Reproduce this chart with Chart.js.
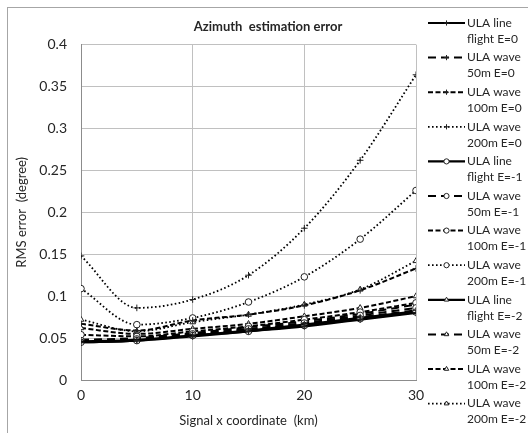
<!DOCTYPE html>
<html>
<head>
<meta charset="utf-8">
<script src="https://cdn.jsdelivr.net/npm/chart.js@4/dist/chart.umd.min.js"></script>
<style>
  html, body { margin: 0; padding: 0; background: #fff; }
  #wrap { width: 528px; height: 433px; }
</style>
</head>
<body>
<div id="wrap"><canvas id="chart" width="528" height="433"></canvas></div>
<script>
"use strict";

// x coordinate of the signal (km)
let xKm = [0, 5, 10, 15, 20, 25, 30];

let seriesNames = [
    ["ULA line", "flight E=0"], ["ULA wave", "50m E=0"], ["ULA wave", "100m E=0"], ["ULA wave", "200m E=0"],
    ["ULA line", "flight E=-1"], ["ULA wave", "50m E=-1"], ["ULA wave", "100m E=-1"], ["ULA wave", "200m E=-1"],
    ["ULA line", "flight E=-2"], ["ULA wave", "50m E=-2"], ["ULA wave", "100m E=-2"], ["ULA wave", "200m E=-2"]
];

// RMS error (degree)
let lineE0 = [0.045, 0.047, 0.052, 0.058, 0.064, 0.072, 0.080];
let wave50E0 = [0.046, 0.048, 0.054, 0.060, 0.067, 0.075, 0.083];
let wave100E0 = [0.067, 0.059, 0.071, 0.078, 0.089, 0.107, 0.133];
let wave200E0 = [0.148, 0.086, 0.096, 0.125, 0.181, 0.262, 0.364];
let lineE1 = [0.045, 0.047, 0.053, 0.058, 0.065, 0.073, 0.081];
let wave50E1 = [0.047, 0.049, 0.055, 0.061, 0.068, 0.077, 0.086];
let wave100E1 = [0.054, 0.052, 0.058, 0.064, 0.072, 0.081, 0.092];
let wave200E1 = [0.109, 0.066, 0.074, 0.093, 0.123, 0.168, 0.226];
let lineE2 = [0.046, 0.048, 0.053, 0.059, 0.066, 0.074, 0.082];
let wave50E2 = [0.048, 0.050, 0.056, 0.063, 0.070, 0.079, 0.090];
let wave100E2 = [0.062, 0.055, 0.061, 0.067, 0.076, 0.086, 0.100];
let wave200E2 = [0.072, 0.058, 0.069, 0.078, 0.090, 0.108, 0.142];

let allSeries = [lineE0, wave50E0, wave100E0, wave200E0, lineE1, wave50E1, wave100E1, wave200E1,
    lineE2, wave50E2, wave100E2, wave200E2];

let yTickLabels = ["0", "0.05", "0.1", "0.15", "0.2", "0.25", "0.3", "0.35", "0.4"];
let xTickLabels = ["0", "10", "20", "30"];

let markers = ["cross", "circle", "triangle"];
let dashes = [[], [8, 5], [5, 2.5], [1.6, 2.4]];
let widths = [2.2, 2, 2, 1.8];

let FONT = "Lato, 'Open Sans', sans-serif";
let TEXT = "#262626";

let datasets = allSeries.map(function (vals, i) {
    let kind = i % 4;
    return {
        label: seriesNames[i].join(" "),
        data: vals.map(function (v, k) { return { x: xKm[k], y: v }; }),
        borderColor: "#000",
        backgroundColor: "#fff",
        borderWidth: widths[kind],
        borderDash: dashes[kind],
        pointStyle: markers[Math.floor(i / 4)],
        pointRadius: 3.3,
        pointBorderWidth: 1,
        pointBorderColor: "#222",
        pointBackgroundColor: "#fff",
        cubicInterpolationMode: "monotone",
        fill: false
    };
});

// frame around the whole chart
let framePlugin = {
    id: "frame",
    beforeDraw: function (chart) {
        let ctx = chart.ctx;
        ctx.save();
        ctx.fillStyle = "#fff";
        ctx.fillRect(0, 0, chart.width, chart.height);
        ctx.strokeStyle = "#a6a6a6";
        ctx.lineWidth = 1;
        ctx.strokeRect(7.5, 7.5, chart.width + 10, chart.height + 10);
        ctx.restore();
    }
};

// two-line legend on the right
let legendPlugin = {
    id: "sideLegend",
    afterDraw: function (chart) {
        let ctx = chart.ctx;
        ctx.save();
        chart.data.datasets.forEach(function (ds, i) {
            let y = 23 + i * 34.6;
            ctx.strokeStyle = "#000";
            ctx.lineWidth = ds.borderWidth;
            ctx.setLineDash(ds.borderDash);
            ctx.beginPath();
            ctx.moveTo(428, y);
            ctx.lineTo(465, y);
            ctx.stroke();
            ctx.setLineDash([]);
            ctx.fillStyle = "#fff";
            ctx.strokeStyle = "#222";
            ctx.lineWidth = 1;
            Chart.helpers.drawPoint(ctx, { pointStyle: ds.pointStyle, radius: 2.6, rotation: 0, borderWidth: 1 }, 446.5, y);
            ctx.fillStyle = TEXT;
            ctx.font = "12px " + FONT;
            ctx.textBaseline = "middle";
            ctx.textAlign = "left";
            ctx.fillText(seriesNames[i][0], 467, y);
            ctx.fillText(seriesNames[i][1], 467, y + 16);
        });
        ctx.restore();
    }
};

let ctx = document.getElementById("chart").getContext("2d");
let chart = new Chart(ctx, {
    type: "line",
    data: { datasets: datasets },
    plugins: [framePlugin, legendPlugin],
    options: {
        responsive: false,
        animation: false,
        layout: { padding: { left: 8, right: 0, top: 0, bottom: 0 } },
        plugins: {
            legend: { display: false },
            tooltip: { enabled: false },
            title: {
                display: true,
                text: "Azimuth  estimation error",
                color: TEXT,
                font: { family: FONT, size: 13, weight: "bold" },
                padding: { top: 19, bottom: 10 }
            }
        },
        scales: {
            x: {
                type: "linear",
                min: 0,
                max: 30,
                afterBuildTicks: function (scale) {
                    scale.ticks = xTickLabels.map(function (t) { return { value: Number(t) }; });
                },
                afterFit: function (scale) { scale.height = 53; },
                ticks: {
                    color: TEXT,
                    font: { family: FONT, size: 14 },
                    padding: 7,
                    maxRotation: 0
                },
                grid: { color: "#c0c0c0", lineWidth: 1, drawTicks: false },
                border: { color: "#8c8c8c", width: 1 },
                title: {
                    display: true,
                    text: "Signal x coordinate  (km)",
                    color: TEXT,
                    font: { family: FONT, size: 13 },
                    padding: { top: 4, bottom: 4 }
                }
            },
            y: {
                type: "linear",
                min: 0,
                max: 0.4,
                afterBuildTicks: function (scale) {
                    scale.ticks = yTickLabels.map(function (t) { return { value: Number(t) }; });
                },
                afterFit: function (scale) { scale.width = 73; },
                ticks: {
                    color: TEXT,
                    font: { family: FONT, size: 14 },
                    padding: 14,
                    callback: function (v, idx) { return yTickLabels[idx]; }
                },
                grid: { color: "#c0c0c0", lineWidth: 1, drawTicks: false },
                border: { color: "#8c8c8c", width: 1 },
                title: {
                    display: true,
                    text: "RMS error  (degree)",
                    color: TEXT,
                    font: { family: FONT, size: 13 },
                    padding: { top: 6, bottom: 0 }
                }
            },
            yRight: {
                type: "linear",
                position: "right",
                display: true,
                min: 0,
                max: 1,
                afterFit: function (scale) { scale.width = 112; },
                ticks: { display: false },
                grid: { display: false, drawTicks: false },
                border: { display: false }
            }
        }
    }
});
</script>
</body>
</html>
